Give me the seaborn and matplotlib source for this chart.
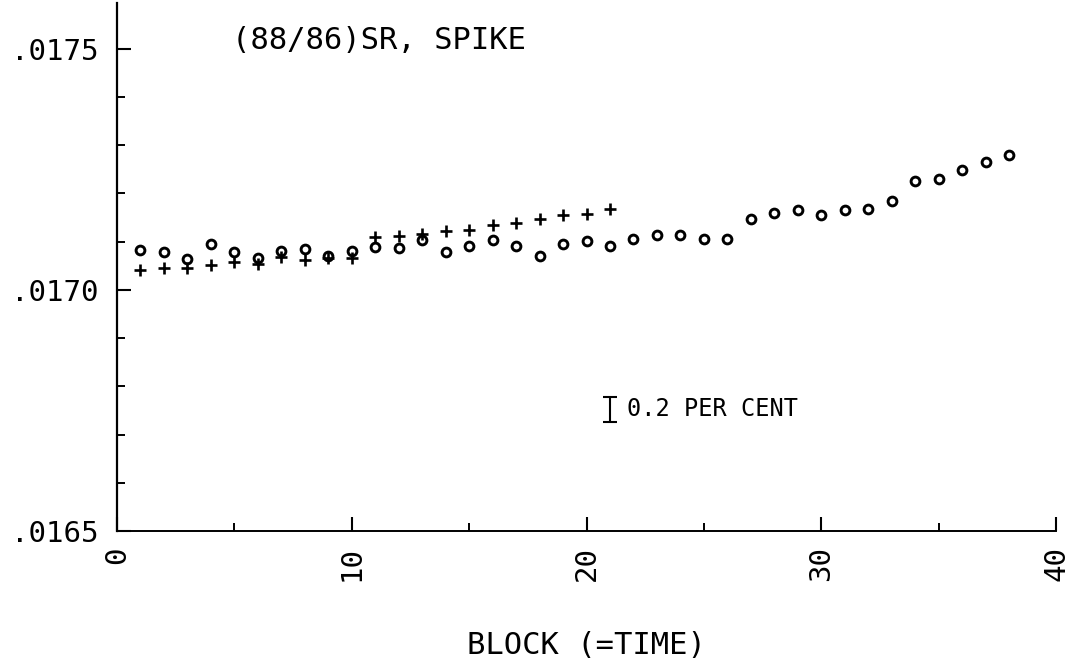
import numpy as np
import pandas as pd
import matplotlib
matplotlib.use("Agg")
import matplotlib.pyplot as plt
from matplotlib.ticker import MultipleLocator, FixedLocator, FixedFormatter
import seaborn as sns

# ---- data ----
blocks_circle = list(range(1, 39))
ratio_circle = [
    0.017083, 0.017079, 0.017064, 0.017096, 0.017078, 0.017066, 0.017080, 0.017085,
    0.017071, 0.017080, 0.017089, 0.017087, 0.017103, 0.017078, 0.017092, 0.017103,
    0.017092, 0.017071, 0.017095, 0.017102, 0.017092, 0.017105, 0.017113, 0.017113,
    0.017106, 0.017106, 0.017147, 0.017160, 0.017165, 0.017156, 0.017165, 0.017168,
    0.017184, 0.017226, 0.017229, 0.017248, 0.017265, 0.017279,
]
blocks_plus = list(range(1, 22))
ratio_plus = [
    0.017042, 0.017045, 0.017045, 0.017052, 0.017057, 0.017054, 0.017069, 0.017061,
    0.017066, 0.017066, 0.017110, 0.017111, 0.017115, 0.017122, 0.017125, 0.017135,
    0.017139, 0.017147, 0.017156, 0.017157, 0.017167,
]

y_ticks = [0.0165, 0.0170, 0.0175]
y_tick_labels = [".0165", ".0170", ".0175"]
x_ticks = [0, 10, 20, 30, 40]
x_tick_labels = ["0", "10", "20", "30", "40"]

title_text = "(88/86)SR, SPIKE"
xlabel_text = "BLOCK (=TIME)"
scale_text = "0.2 PER CENT"
scale_x = 21.0
scale_y = 0.016752
scale_half = 0.000026

# ---- figure ----
sns.set_style("white")
plt.rcParams["font.family"] = ["DejaVu Sans Mono", "DejaVu Sans"]

fig = plt.figure(figsize=(10.72, 6.58), dpi=100)
ax = fig.add_axes([117 / 1072, 127 / 658, (1056 - 117) / 1072, (655 - 127) / 658])

df_c = pd.DataFrame({"block": blocks_circle, "ratio": ratio_circle})
df_p = pd.DataFrame({"block": blocks_plus, "ratio": ratio_plus})

sns.scatterplot(data=df_c, x="block", y="ratio", ax=ax, marker="o", s=40,
                facecolor="white", edgecolor="black", linewidth=2.1, zorder=3)
sns.scatterplot(data=df_p, x="block", y="ratio", ax=ax, marker="+", s=75,
                color="black", linewidth=1.9, zorder=4)

ax.set_xlim(0, 40)
ax.set_ylim(0.0165, 0.017595)

ax.xaxis.set_major_locator(FixedLocator(x_ticks))
ax.xaxis.set_major_formatter(FixedFormatter(x_tick_labels))
ax.xaxis.set_minor_locator(MultipleLocator(5))
ax.yaxis.set_major_locator(FixedLocator(y_ticks))
ax.yaxis.set_major_formatter(FixedFormatter(y_tick_labels))
ax.yaxis.set_minor_locator(MultipleLocator(0.0001))

for s in ["top", "right"]:
    ax.spines[s].set_visible(False)
ax.spines["left"].set_linewidth(1.6)
ax.spines["bottom"].set_linewidth(1.4)
ax.spines["left"].set_color("black")
ax.spines["bottom"].set_color("black")

ax.tick_params(axis="both", which="both", left=True, bottom=True, top=False, right=False)
ax.tick_params(axis="both", which="major", direction="in", length=10, width=1.5,
               colors="black", labelsize=21)
ax.tick_params(axis="both", which="minor", direction="in", length=6, width=1.4,
               colors="black")
ax.tick_params(axis="y", which="major", pad=13)
ax.tick_params(axis="x", which="major", pad=11, labelrotation=90)

ax.set_ylabel("")
ax.set_xlabel(xlabel_text, fontsize=22, color="black")
ax.xaxis.set_label_coords(0.5, -(643 - 529) / 528)
ax.xaxis.label.set_va("center")

ax.text(4.9, 0.017517, title_text, fontsize=22, ha="left", va="center", color="black")

ax.errorbar([scale_x], [scale_y], yerr=[scale_half], fmt="none", ecolor="black",
            elinewidth=1.5, capsize=4.7, capthick=1.5)
ax.text(scale_x + 0.72, scale_y, scale_text, fontsize=17, ha="left", va="center",
        color="black")

ax.grid(False)
fig.savefig("out.png", dpi=100, facecolor="white")
